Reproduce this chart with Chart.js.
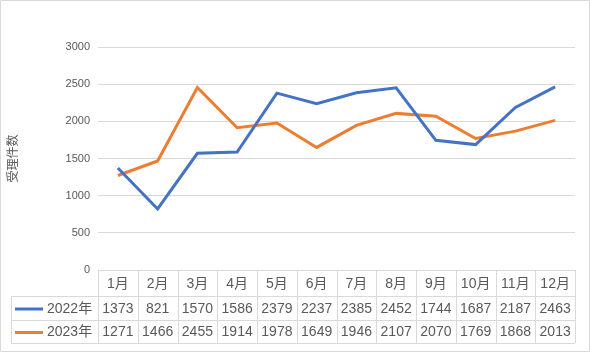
<!DOCTYPE html>
<html>
<head>
<meta charset="utf-8">
<script src="https://cdn.jsdelivr.net/npm/chart.js@4"></script>
<style>
  html, body { margin: 0; padding: 0; background: #fff; }
  #wrap { width: 590px; height: 352px; }
</style>
</head>
<body>
<div id="wrap"><canvas id="lineChart" width="590" height="352"></canvas></div>
<script>
// Data
const months = ['1月', '2月', '3月', '4月', '5月', '6月', '7月', '8月', '9月', '10月', '11月', '12月'];
const seriesNames = ['2022年', '2023年'];
const values2022 = [1373, 821, 1570, 1586, 2379, 2237, 2385, 2452, 1744, 1687, 2187, 2463];
const values2023 = [1271, 1466, 2455, 1914, 1978, 1649, 1946, 2107, 2070, 1769, 1868, 2013];
const seriesColors = ['#4472C4', '#ED7D31'];

const FONT = '"Liberation Sans", "Noto Sans CJK SC", sans-serif';
const TEXT_COLOR = '#595959';
const LINE_COLOR = '#D9D9D9';

// Draws the data table under the plot plus the outer frame
const dataTablePlugin = {
    id: 'dataTable',
    afterDraw(chart) {
        const ctx = chart.ctx;
        const x = chart.scales.x;
        const area = chart.chartArea;
        const rows = [area.bottom, area.bottom + 26, area.bottom + 50, area.bottom + 73];
        const legendLeft = 11;
        const step = (area.right - area.left) / months.length;

        ctx.save();
        ctx.strokeStyle = LINE_COLOR;
        ctx.lineWidth = 1;
        ctx.beginPath();
        // horizontal lines
        ctx.moveTo(area.left, rows[0] + 0.5); ctx.lineTo(area.right, rows[0] + 0.5);
        for (let r = 1; r < rows.length; r++) {
            ctx.moveTo(legendLeft, Math.round(rows[r]) + 0.5);
            ctx.lineTo(area.right, Math.round(rows[r]) + 0.5);
        }
        // vertical lines
        for (let i = 0; i <= months.length; i++) {
            const px = Math.round(area.left + i * step) + 0.5;
            ctx.moveTo(px, rows[0]); ctx.lineTo(px, rows[3]);
        }
        ctx.moveTo(legendLeft + 0.5, rows[1]); ctx.lineTo(legendLeft + 0.5, rows[3]);
        // outer frame
        ctx.rect(0.5, 0.5, chart.width - 1, chart.height - 1);
        ctx.stroke();

        ctx.fillStyle = TEXT_COLOR;
        ctx.font = '14px ' + FONT;
        ctx.textAlign = 'center';
        ctx.textBaseline = 'middle';
        months.forEach((m, i) => {
            const cx = x.getPixelForValue(i);
            ctx.fillText(m, cx, (rows[0] + rows[1]) / 2 + 1);
            ctx.fillText(String(values2022[i]), cx, (rows[1] + rows[2]) / 2 + 1);
            ctx.fillText(String(values2023[i]), cx, (rows[2] + rows[3]) / 2 + 1);
        });

        // legend keys
        ctx.textAlign = 'left';
        seriesNames.forEach((name, s) => {
            const cy = (rows[s + 1] + rows[s + 2]) / 2 + 1;
            ctx.strokeStyle = seriesColors[s];
            ctx.lineWidth = 3;
            ctx.beginPath();
            ctx.moveTo(15, cy); ctx.lineTo(43, cy);
            ctx.stroke();
            ctx.fillText(name, 47, cy);
        });
        ctx.restore();
    }
};

new Chart(document.getElementById('lineChart'), {
    type: 'line',
    data: {
        labels: months,
        datasets: [
            {
                label: seriesNames[0],
                data: values2022,
                borderColor: seriesColors[0],
                backgroundColor: seriesColors[0],
                borderWidth: 3,
                pointRadius: 0,
                tension: 0
            },
            {
                label: seriesNames[1],
                data: values2023,
                borderColor: seriesColors[1],
                backgroundColor: seriesColors[1],
                borderWidth: 3,
                pointRadius: 0,
                tension: 0
            }
        ]
    },
    options: {
        responsive: false,
        animation: false,
        layout: {
            padding: { top: 47, bottom: 82, left: 0, right: 15 }
        },
        plugins: {
            legend: { display: false },
            tooltip: { enabled: false }
        },
        scales: {
            x: {
                display: false,
                offset: true
            },
            y: {
                min: 0,
                max: 3000,
                afterFit: function(scale) { scale.width = 98; },
                ticks: {
                    stepSize: 500,
                    color: TEXT_COLOR,
                    font: { family: FONT, size: 11 },
                    padding: 8,
                    callback: v => String(v)
                },
                grid: {
                    color: LINE_COLOR,
                    drawTicks: false
                },
                border: { display: false },
                title: {
                    display: true,
                    text: '受理件数',
                    color: TEXT_COLOR,
                    font: { family: FONT, size: 12 },
                    padding: { top: 6, bottom: 0 }
                }
            }
        }
    },
    plugins: [dataTablePlugin]
});
</script>
</body>
</html>
